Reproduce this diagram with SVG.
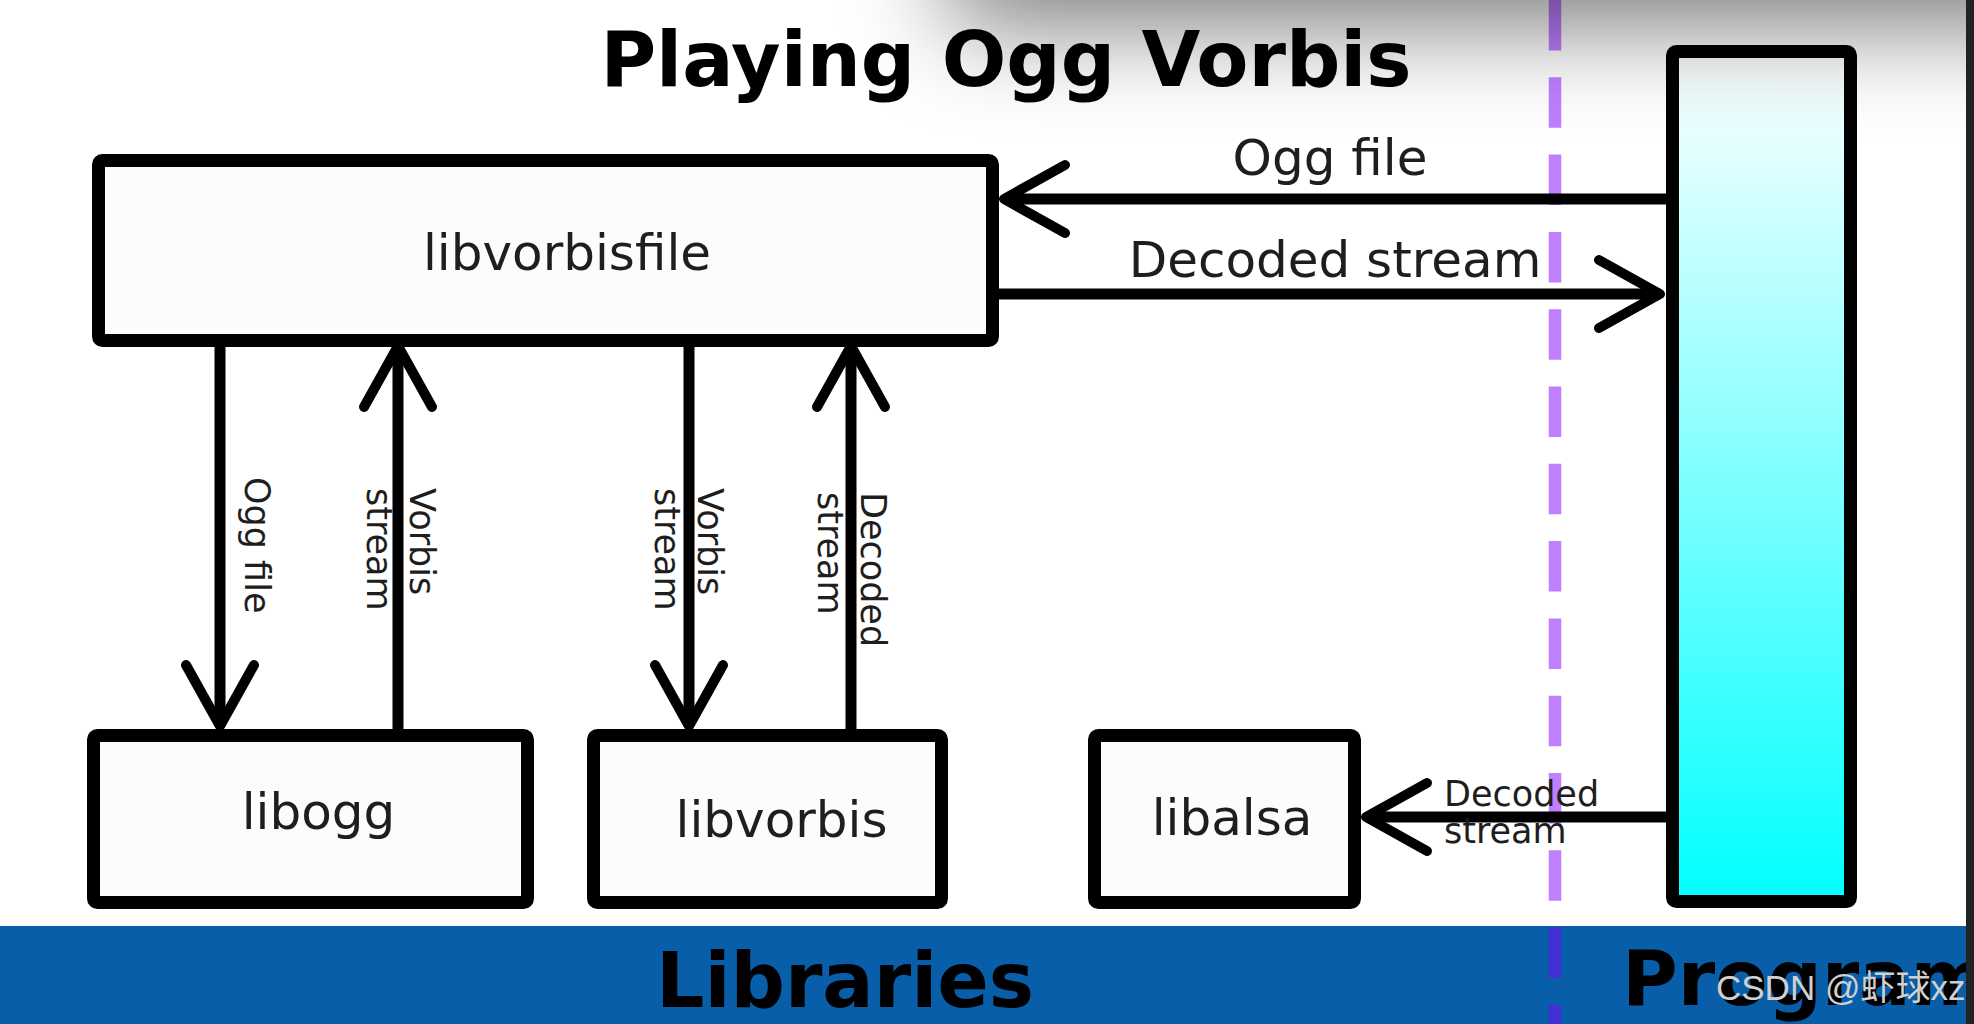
<svg xmlns="http://www.w3.org/2000/svg" width="1974" height="1024" viewBox="0 0 1974 1024">
<defs>
<linearGradient id="cyan" x1="0" y1="0" x2="0" y2="1">
<stop offset="0" stop-color="#ffffff"/>
<stop offset="1" stop-color="#00ffff"/>
</linearGradient>
<filter id="blur" filterUnits="userSpaceOnUse" x="600" y="-500" width="1700" height="800">
<feGaussianBlur stdDeviation="50"/>
</filter>
<marker id="ah" markerUnits="userSpaceOnUse" markerWidth="90" markerHeight="90" viewBox="-75 -45 90 90" refX="0" refY="0" orient="auto" overflow="visible">
<path d="M-61,-34 L0,0 L-61,34" fill="none" stroke="#000" stroke-width="10" stroke-linecap="round" stroke-linejoin="round"/>
</marker>
<style>
.box{fill:#fcfcfc;stroke:#000;stroke-width:13;}
.lbl{font-family:"DejaVu Sans",Verdana,sans-serif;font-size:50px;fill:#1e1e1e;}
.sm{font-family:"DejaVu Sans",Verdana,sans-serif;font-size:35px;fill:#1e1e1e;}
.big{font-family:"DejaVu Sans",Verdana,sans-serif;font-size:76px;font-weight:bold;fill:#000;}
.conn{stroke:#000;stroke-width:11;fill:none;marker-end:url(#ah);}
</style>
</defs>
<rect x="0" y="0" width="1974" height="1024" fill="#ffffff"/>
<rect x="0" y="926" width="1966" height="98" fill="#085ea8"/>
<line x1="1555" y1="0" x2="1555" y2="1024" stroke="#8000ff" stroke-opacity="0.5" stroke-width="12.5" stroke-dasharray="50.5 26.8"/>

<g id="program"><rect x="1672.5" y="51.5" width="178" height="850" rx="4" fill="url(#cyan)" stroke="#000" stroke-width="13"/></g>
<g id="libvorbisfile"><rect class="box" x="98.5" y="160.5" width="894" height="180" rx="4"/><text class="lbl" x="567" y="270" text-anchor="middle">libvorbisfile</text></g>
<g id="libogg"><rect class="box" x="93.5" y="735.5" width="434" height="167" rx="4"/><text class="lbl" x="318.5" y="829" text-anchor="middle">libogg</text></g>
<g id="libvorbis"><rect class="box" x="593.5" y="735.5" width="348" height="167" rx="4"/><text class="lbl" x="781.5" y="837" text-anchor="middle">libvorbis</text></g>
<g id="libalsa"><rect class="box" x="1094.5" y="735.5" width="260" height="167" rx="4"/><text class="lbl" x="1232" y="835" text-anchor="middle">libalsa</text></g>

<g id="connectors">
<line class="conn" x1="1666" y1="199" x2="1004" y2="199"/>
<text class="lbl" x="1330" y="175" text-anchor="middle">Ogg file</text>
<line class="conn" x1="999" y1="294" x2="1660" y2="294"/>
<text class="lbl" x="1335" y="277" text-anchor="middle">Decoded stream</text>
<line class="conn" x1="1666" y1="817" x2="1366" y2="817"/>
<text class="sm" x="1444" y="806">Decoded</text>
<text class="sm" x="1444" y="843">stream</text>

<line class="conn" x1="220" y1="347" x2="220" y2="726"/>
<text class="sm" transform="translate(245,477) rotate(90)">Ogg file</text>
<line class="conn" x1="398" y1="729" x2="398" y2="346"/>
<text class="sm" transform="translate(410,488) rotate(90)">Vorbis</text>
<text class="sm" transform="translate(367,488) rotate(90)">stream</text>
<line class="conn" x1="689" y1="347" x2="689" y2="726"/>
<text class="sm" transform="translate(698,488) rotate(90)">Vorbis</text>
<text class="sm" transform="translate(655,488) rotate(90)">stream</text>
<line class="conn" x1="851" y1="729" x2="851" y2="346"/>
<text class="sm" transform="translate(861,492) rotate(90)">Decoded</text>
<text class="sm" transform="translate(818,492) rotate(90)">stream</text>
</g>

<g id="shadow"><rect x="950" y="-300" width="1200" height="325" fill="#000" fill-opacity="0.52" filter="url(#blur)"/></g>

<text class="big" x="1006" y="86" text-anchor="middle">Playing Ogg Vorbis</text>
<text class="big" x="656" y="1007">Libraries</text>
<text class="big" x="1622" y="1005">Program</text>
<rect x="1966" y="0" width="8" height="1024" fill="#222222"/>
<text x="1716" y="1000" font-family="'Liberation Sans','Noto Sans CJK SC',sans-serif" font-size="35" fill="#d0d0d0">CSDN @虾球xz</text>
</svg>
